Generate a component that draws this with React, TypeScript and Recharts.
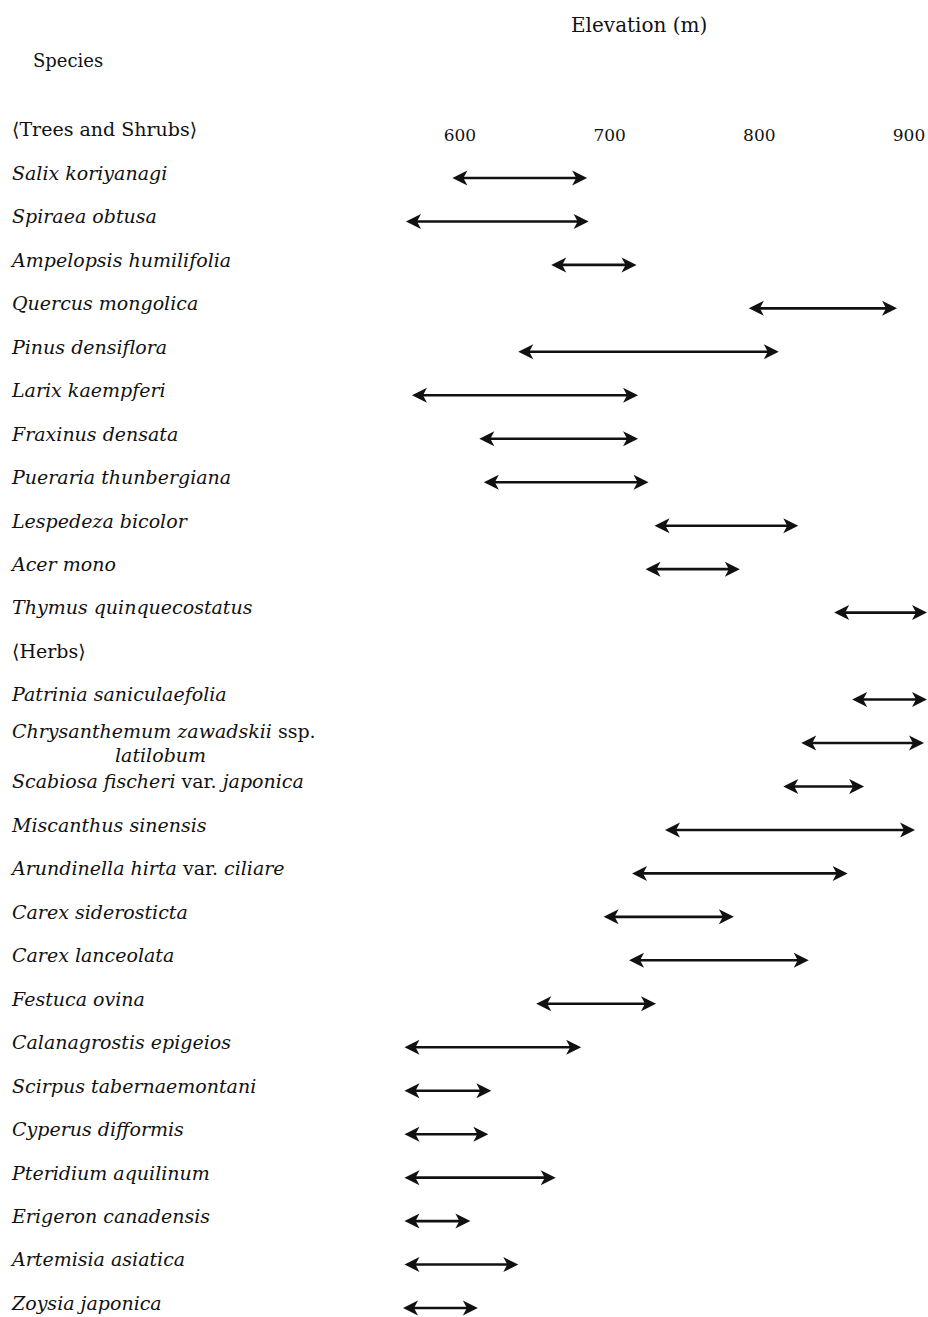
import React from "react"
import { BarChart, Bar, XAxis, YAxis } from "recharts"

const species = [
  "⟨Trees and Shrubs⟩",
  "Salix koriyanagi",
  "Spiraea obtusa",
  "Ampelopsis humilifolia",
  "Quercus mongolica",
  "Pinus densiflora",
  "Larix kaempferi",
  "Fraxinus densata",
  "Pueraria thunbergiana",
  "Lespedeza bicolor",
  "Acer mono",
  "Thymus quinquecostatus",
  "⟨Herbs⟩",
  "Patrinia saniculaefolia",
  "Chrysanthemum zawadskii ssp.\nlatilobum",
  "Scabiosa fischeri var. japonica",
  "Miscanthus sinensis",
  "Arundinella hirta var. ciliare",
  "Carex siderosticta",
  "Carex lanceolata",
  "Festuca ovina",
  "Calanagrostis epigeios",
  "Scirpus tabernaemontani",
  "Cyperus difformis",
  "Pteridium aquilinum",
  "Erigeron canadensis",
  "Artemisia asiatica",
  "Zoysia japonica",
]

// lower / upper elevation limit (m), null for group headers
const lowElev = [
  null, 595, 564, 661, 793, 639, 568, 613, 616, 730, 724, 850,
  null, 862, 828, 816, 737, 715, 696, 713, 651, 563, 563, 563, 563, 563, 563, 562,
]
const highElev = [
  null, 685, 686, 718, 892, 813, 719, 719, 726, 826, 787, 912,
  null, 912, 910, 870, 904, 859, 783, 833, 731, 681, 621, 619, 664, 607, 639, 612,
]

const elevTicks = [600, 700, 800, 900]

const rows = species.map((name, i) => ({
  name,
  range: lowElev[i] == null ? null : [lowElev[i], highElev[i]],
}))

const FONT = "'DejaVu Serif', 'Liberation Serif', serif"
const INK = "#111"

function ArrowShape(props: any) {
  const { x, y, width, height } = props
  if (!Number.isFinite(x) || !Number.isFinite(width) || width <= 0) return null
  const cy = y + height / 2
  const x1 = x
  const x2 = x + width
  const L = 15
  const h = 7.5
  return (
    <g>
      <line x1={x1 + 8} x2={x2 - 8} y1={cy} y2={cy} stroke={INK} strokeWidth={2.6} />
      <polygon points={`${x1},${cy} ${x1 + L},${cy - h} ${x1 + L - 4},${cy} ${x1 + L},${cy + h}`} fill={INK} />
      <polygon points={`${x2},${cy} ${x2 - L},${cy - h} ${x2 - L + 4},${cy} ${x2 - L},${cy + h}`} fill={INK} />
    </g>
  )
}

function words(line: string) {
  const roman = line.startsWith("⟨")
  return line.split(" ").map((w, i) => (
    <tspan key={i} fontStyle={roman || w === "ssp." || w === "var." ? "normal" : "italic"}>
      {(i > 0 ? " " : "") + w}
    </tspan>
  ))
}

function SpeciesTick(props: any) {
  const { y, payload } = props
  const lines = String(payload.value).split("\n")
  if (lines.length > 1) {
    return (
      <g>
        <text x={4} y={y - 12} dy="0.35em" fontFamily={FONT} fontSize={19} fill={INK} xmlSpace="preserve">
          {words(lines[0])}
        </text>
        <text x={107} y={y + 12} dy="0.35em" fontFamily={FONT} fontSize={19} fill={INK}>
          {words(lines[1])}
        </text>
      </g>
    )
  }
  return (
    <text x={4} y={y - 5} dy="0.35em" fontFamily={FONT} fontSize={19} fill={INK} xmlSpace="preserve">
      {words(lines[0])}
    </text>
  )
}

function ElevTick(props: any) {
  const { x, y, payload } = props
  return (
    <text x={x} y={y + 30} dy="0.35em" textAnchor="middle" fontFamily={FONT} fontSize={17} fill={INK}>
      {payload.value}
    </text>
  )
}

export default function App() {
  return (
    <div style={{ position: "relative", width: 928, height: 1317, overflow: "hidden", background: "#fff" }}>
      <style>{"body { margin: 0; }"}</style>
      <div style={{ position: "absolute", left: 8, top: 8 }}>
        <div style={{ position: "absolute", left: 563, top: 7, fontFamily: FONT, fontSize: 20, lineHeight: "20px", color: INK, whiteSpace: "nowrap" }}>
          Elevation (m)
        </div>
        <div style={{ position: "absolute", left: 25, top: 44, fontFamily: FONT, fontSize: 18, lineHeight: "18px", color: INK }}>
          Species
        </div>
        <BarChart
          width={919}
          height={1322}
          data={rows}
          layout="vertical"
          margin={{ top: 0, right: 0, bottom: 0, left: 0 }}
          barCategoryGap={0}
        >
          <XAxis
            type="number"
            orientation="top"
            domain={[560, 912]}
            allowDataOverflow
            ticks={elevTicks}
            height={105}
            axisLine={false}
            tickLine={false}
            tick={<ElevTick />}
          />
          <YAxis
            type="category"
            dataKey="name"
            width={392}
            axisLine={false}
            tickLine={false}
            interval={0}
            tick={<SpeciesTick />}
          />
          <Bar dataKey="range" shape={<ArrowShape />} isAnimationActive={false} />
        </BarChart>
      </div>
    </div>
  )
}
